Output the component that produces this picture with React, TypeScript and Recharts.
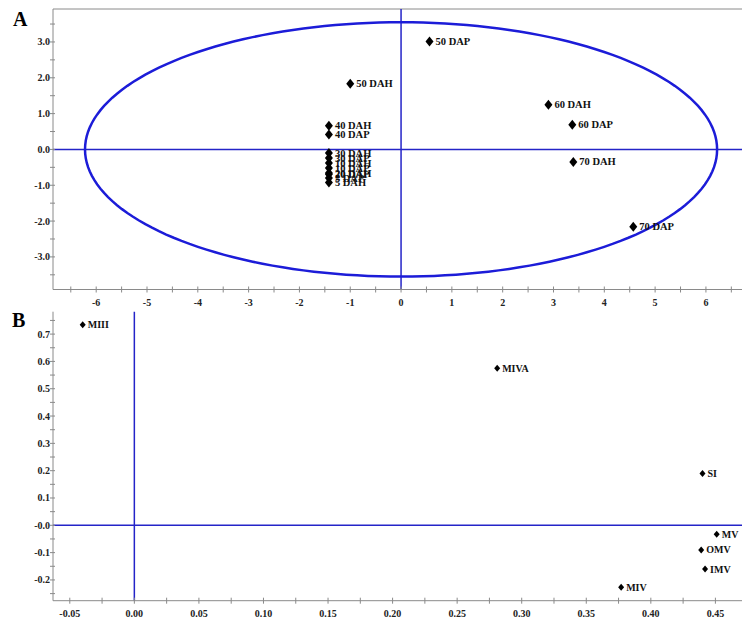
import React from "react";
import { ScatterChart, Scatter, XAxis, YAxis, ReferenceLine } from "recharts";

// Panel A: score plot (PC1 / PC2)
const A_LABELS = [
  "50 DAP", "50 DAH", "60 DAH", "60 DAP", "70 DAH", "70 DAP",
  "40 DAH", "40 DAP", "30 DAH", "30 DAP", "10 DAH", "10 DAP",
  "20 DAH", "20 DAP", "5 DAP", "5 DAH",
];
const A_X = [0.56, -1.0, 2.9, 3.37, 3.39, 4.57, -1.42, -1.42, -1.42, -1.42, -1.42, -1.42, -1.42, -1.42, -1.42, -1.42];
const A_Y = [3.01, 1.83, 1.25, 0.69, -0.35, -2.16, 0.66, 0.42, -0.1, -0.24, -0.38, -0.52, -0.66, -0.69, -0.8, -0.92];

const A_X_TICKS = [-6.5, -6, -5.5, -5, -4.5, -4, -3.5, -3, -2.5, -2, -1.5, -1, -0.5, 0, 0.5, 1, 1.5, 2, 2.5, 3, 3.5, 4, 4.5, 5, 5.5, 6, 6.5];
const A_Y_TICKS = [-3.5, -3, -2.5, -2, -1.5, -1, -0.5, 0, 0.5, 1, 1.5, 2, 2.5, 3, 3.5];

// Hotelling ellipse half-axes
const ELLIPSE_RX = 6.22;
const ELLIPSE_RY = 3.55;

// Panel B: loading plot
const B_LABELS = ["MIII", "MIVA", "SI", "MV", "OMV", "IMV", "MIV"];
const B_X = [-0.04, 0.281, 0.44, 0.451, 0.439, 0.442, 0.377];
const B_Y = [0.734, 0.575, 0.19, -0.033, -0.09, -0.16, -0.227];

const B_X_TICKS = [-0.05, -0.025, 0, 0.025, 0.05, 0.075, 0.1, 0.125, 0.15, 0.175, 0.2, 0.225, 0.25, 0.275, 0.3, 0.325, 0.35, 0.375, 0.4, 0.425, 0.45];
const B_Y_TICKS = [-0.25, -0.2, -0.15, -0.1, -0.05, 0, 0.05, 0.1, 0.15, 0.2, 0.25, 0.3, 0.35, 0.4, 0.45, 0.5, 0.55, 0.6, 0.65, 0.7, 0.75];

const BLUE = "#2424c8";
const ELLIPSE_BLUE = "#1c1cd8";
const AXIS = "#8a8a8a";
const FONT = "'Liberation Serif', 'DejaVu Serif', serif";

const aData = A_LABELS.map((name, i) => ({ name, x: A_X[i], y: A_Y[i] }));
const bData = B_LABELS.map((name, i) => ({ name, x: B_X[i], y: B_Y[i] }));

const ellipse = Array.from({ length: 181 }, (_, i) => {
  const t = (i / 180) * Math.PI * 2;
  return { x: ELLIPSE_RX * Math.cos(t), y: ELLIPSE_RY * Math.sin(t) };
});

const isStep = (v: number, step: number) => Math.abs(v / step - Math.round(v / step)) < 1e-6;

const XTick = (props: any) => {
  const { x, y, payload, step, fmt } = props;
  const v = payload.value;
  return (
    <g>
      <line x1={x} x2={x} y1={y - 3} y2={y + 3} stroke={AXIS} />
      {isStep(v, step) && (
        <text x={x} y={y + 16} textAnchor="middle" fontSize={10} fontWeight="bold" fontFamily={FONT} fill="#222">
          {fmt(v)}
        </text>
      )}
    </g>
  );
};

const YTick = (props: any) => {
  const { x, y, payload, step, fmt } = props;
  const v = payload.value;
  return (
    <g>
      <line x1={x - 3} x2={x + 2} y1={y} y2={y} stroke={AXIS} />
      {isStep(v, step) && (
        <text x={x - 3} y={y + 3.5} textAnchor="end" fontSize={10} fontWeight="bold" fontFamily={FONT} fill="#222">
          {fmt(v)}
        </text>
      )}
    </g>
  );
};

const marker = (hw: number, hh: number, fs: number) => (props: any) => {
  const { cx, cy, payload } = props;
  return (
    <g>
      <polygon
        points={`${cx},${cy - hh} ${cx + hw},${cy} ${cx},${cy + hh} ${cx - hw},${cy}`}
        fill="#000"
      />
      <text x={cx + hw + 2} y={cy + 3.5} fontSize={fs} fontWeight="bold" fontFamily={FONT} fill="#111">
        {payload.name}
      </text>
    </g>
  );
};

export default function App() {
  return (
    <div style={{ position: "absolute", left: 0, top: 0, width: 742, height: 624, background: "#fff" }}>
      <div style={{ position: "absolute", left: 0, top: 0 }}>
        <ScatterChart width={742} height={316} margin={{ top: 9, right: 0, bottom: 0, left: 0 }}>
          <XAxis
            type="number"
            dataKey="x"
            domain={[-6.85, 6.71]}
            allowDataOverflow
            ticks={A_X_TICKS}
            interval={0}
            height={26.5}
            stroke={AXIS}
            tickLine={false}
            tickSize={0}
            tickMargin={0}
            tick={(p: any) => <XTick {...p} step={1} fmt={(v: number) => String(v)} />}
          />
          <YAxis
            type="number"
            dataKey="y"
            domain={[-3.91, 3.92]}
            allowDataOverflow
            ticks={A_Y_TICKS}
            interval={0}
            width={53}
            stroke={AXIS}
            tickLine={false}
            tickSize={0}
            tickMargin={0}
            tick={(p: any) => <YTick {...p} step={1} fmt={(v: number) => v.toFixed(1)} />}
          />
          <ReferenceLine y={3.92} stroke={AXIS} />
          <ReferenceLine x={0} stroke={BLUE} strokeWidth={1.5} />
          <ReferenceLine y={0} stroke={BLUE} strokeWidth={1.5} />
          <Scatter
            data={ellipse}
            line={{ stroke: ELLIPSE_BLUE, strokeWidth: 2.5 }}
            shape={() => <g />}
            isAnimationActive={false}
          />
          <Scatter data={aData} shape={marker(4, 5, 10.5)} isAnimationActive={false} />
        </ScatterChart>
      </div>
      <div style={{ position: "absolute", left: 0, top: 300 }}>
        <ScatterChart width={742} height={324} margin={{ top: 11.7, right: 0, bottom: 0, left: 0 }}>
          <XAxis
            type="number"
            dataKey="x"
            domain={[-0.063, 0.4706]}
            allowDataOverflow
            ticks={B_X_TICKS}
            interval={0}
            height={23.3}
            stroke={AXIS}
            tickLine={false}
            tickSize={0}
            tickMargin={0}
            tick={(p: any) => <XTick {...p} step={0.05} fmt={(v: number) => v.toFixed(2)} />}
          />
          <YAxis
            type="number"
            dataKey="y"
            domain={[-0.276, 0.782]}
            allowDataOverflow
            ticks={B_Y_TICKS}
            interval={0}
            width={53}
            stroke={AXIS}
            tickLine={false}
            tickSize={0}
            tickMargin={0}
            tick={(p: any) => (
              <YTick {...p} step={0.1} fmt={(v: number) => (Math.abs(v) < 1e-9 ? "-0.0" : v.toFixed(1))} />
            )}
          />
          <ReferenceLine x={0} stroke={BLUE} strokeWidth={1.5} />
          <ReferenceLine y={0} stroke={BLUE} strokeWidth={1.5} />
          <Scatter data={bData} shape={marker(3, 3.5, 10)} isAnimationActive={false} />
        </ScatterChart>
      </div>
      <div
        style={{
          position: "absolute",
          left: 13,
          top: 9,
          fontFamily: FONT,
          fontWeight: "bold",
          fontSize: 20,
          lineHeight: "20px",
        }}
      >
        A
      </div>
      <div
        style={{
          position: "absolute",
          left: 12,
          top: 310,
          fontFamily: FONT,
          fontWeight: "bold",
          fontSize: 20,
          lineHeight: "20px",
        }}
      >
        B
      </div>
    </div>
  );
}
